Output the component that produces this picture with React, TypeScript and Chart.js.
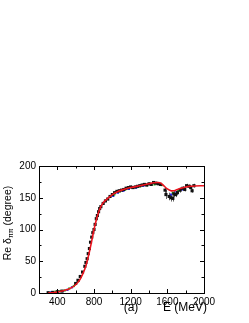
import React, { useEffect, useRef } from "react";
import { Chart, registerables } from "chart.js";

Chart.register(...registerables);

// Fitted curve
const curveE = [300, 350, 400, 450, 500, 550, 600, 650, 700, 725, 750, 775, 800, 825, 850, 875, 900, 950, 1000, 1050, 1100, 1200, 1300, 1400, 1450, 1500, 1530, 1560, 1600, 1640, 1665, 1700, 1750, 1800, 1850, 1900, 2000];
const curveV = [0, 0.5, 1.5, 3, 5, 8, 13, 22, 38, 50, 65, 82, 100, 115, 127, 136, 142, 149, 155, 159, 162, 166, 169, 172, 173.5, 174, 173, 169, 164, 161, 161, 162.5, 165, 167, 168, 168.5, 169];

// Black data points
const blackE = [300, 350, 400, 450, 600, 625, 650, 675, 700, 712, 725, 737, 750, 762, 775, 787, 800, 812, 825, 837, 850, 862, 875, 900, 925, 950, 975, 1000, 1025, 1050, 1075, 1100, 1125, 1150, 1175, 1200, 1225, 1250, 1275, 1300, 1325, 1350, 1375, 1400, 1425, 1450, 1475, 1500, 1525, 1575, 1585, 1620, 1640, 1660, 1670, 1690, 1710, 1740, 1770, 1790, 1810, 1840, 1855, 1870, 1890];
const blackV = [0.5, 1, 2, 3, 15, 20, 26, 33, 42, 48, 54, 62, 70, 80, 88, 95, 100, 108, 117, 122, 128, 133, 136, 141, 145, 148, 152, 155, 158, 160, 161, 162, 163, 165, 166, 167, 166, 167, 168, 169, 170, 171, 170, 172, 171, 174, 173, 172, 171, 162, 155, 152, 150, 149, 156, 155, 158, 162, 165, 163, 169, 168, 166, 161, 169];
const blackErr = [1, 1, 1, 1, 1.5, 1.5, 1.5, 1.5, 2, 2, 2, 2, 2, 2, 2, 2, 2, 2, 2, 2, 2, 2, 2, 2, 2, 2, 2, 2, 2, 2, 2, 2, 2, 2, 2, 2, 2, 2, 2, 2, 2, 2, 2, 2, 2, 2, 2, 2, 2, 5, 7, 6, 6, 5, 5, 4, 4, 4, 3, 3, 3, 3, 3, 3, 3];

// Green points
const greenE = [380, 430, 480, 530, 580, 630, 1020, 1080, 1140, 1220, 1300, 1380, 1460, 1540, 1660, 1720, 1780];
const greenV = [2, 3, 4, 7, 11, 19, 155, 160, 163, 166, 168, 170, 171, 170, 158, 161, 164];

// Blue points
const blueE = [330, 410, 460, 510, 560, 1010, 1060, 1120, 1180, 1260, 1340, 1420, 1500, 1640, 1700, 1760];
const blueV = [1, 2, 3, 5, 9, 153, 158, 161, 164, 166, 169, 171, 172, 155, 159, 163];

const xTickLabels = [400, 800, 1200, 1600, 2000];
const yTickLabels = [0, 50, 100, 150, 200];

const FONT = "'Liberation Sans', Arial, sans-serif";

export default function App() {
  const ref = useRef<HTMLCanvasElement | null>(null);

  useEffect(() => {
    const canvas = ref.current;
    if (!canvas) return;

    const errorBars = {
      id: "errorBars",
      beforeDatasetsDraw(chart: any) {
        const { ctx } = chart;
        const xs = chart.scales.x;
        const ys = chart.scales.y;
        ctx.save();
        ctx.strokeStyle = "#666";
        ctx.lineWidth = 1;
        for (let i = 0; i < blackE.length; i++) {
          const x = Math.round(xs.getPixelForValue(blackE[i])) + 0.5;
          const y1 = ys.getPixelForValue(blackV[i] - blackErr[i]);
          const y2 = ys.getPixelForValue(blackV[i] + blackErr[i]);
          ctx.beginPath();
          ctx.moveTo(x, y1);
          ctx.lineTo(x, y2);
          ctx.stroke();
        }
        ctx.restore();
      },
    };

    const frame = {
      id: "frame",
      afterDraw(chart: any) {
        const { ctx, chartArea: a } = chart;
        const xs = chart.scales.x;
        const ys = chart.scales.y;
        ctx.save();
        ctx.strokeStyle = "#000";
        ctx.lineWidth = 1;
        ctx.strokeRect(Math.round(a.left) + 0.5, Math.round(a.top) + 0.5, Math.round(a.right - a.left), Math.round(a.bottom - a.top));
        ctx.beginPath();
        for (let v = 200; v <= 2000; v += 200) {
          const x = Math.round(xs.getPixelForValue(v)) + 0.5;
          const len = v % 400 === 0 ? 4 : 2.5;
          ctx.moveTo(x, a.bottom);
          ctx.lineTo(x, a.bottom - len);
          ctx.moveTo(x, a.top);
          ctx.lineTo(x, a.top + len);
        }
        for (let v = 0; v <= 200; v += 25) {
          const y = Math.round(ys.getPixelForValue(v)) + 0.5;
          const len = v % 50 === 0 ? 4 : 2.5;
          ctx.moveTo(a.left, y);
          ctx.lineTo(a.left + len, y);
          ctx.moveTo(a.right, y);
          ctx.lineTo(a.right - len, y);
        }
        ctx.stroke();

        // x labels
        ctx.fillStyle = "#000";
        ctx.textBaseline = "middle";
        ctx.textAlign = "center";
        ctx.font = `12px ${FONT}`;
        ctx.fillText("(a)", 131, 308);
        ctx.textAlign = "left";
        ctx.fillText("E (MeV)", 163, 308);

        // y label with subscript
        ctx.translate(8, 223);
        ctx.rotate(-Math.PI / 2);
        const f1 = `10.5px ${FONT}`;
        const f2 = `7px ${FONT}`;
        ctx.font = f1;
        const p1 = "Re \u03b4";
        const p3 = " (degree)";
        const w1 = ctx.measureText(p1).width;
        const w3 = ctx.measureText(p3).width;
        ctx.font = f2;
        const w2 = ctx.measureText("\u03c0\u03c0").width;
        const total = w1 + w2 + w3;
        let xx = -total / 2;
        ctx.textAlign = "left";
        ctx.font = f1;
        ctx.fillText(p1, xx, 0);
        xx += w1;
        ctx.font = f2;
        ctx.fillText("\u03c0\u03c0", xx, 3);
        xx += w2;
        ctx.font = f1;
        ctx.fillText(p3, xx, 0);
        ctx.restore();
      },
    };

    const chart = new Chart(canvas, {
      type: "scatter",
      data: {
        datasets: [
          {
            label: "fit",
            data: curveE.map((e, i) => ({ x: e, y: curveV[i] })),
            showLine: true,
            borderColor: "rgb(235,20,30)",
            borderWidth: 1.6,
            pointRadius: 0,
            tension: 0.4,
            fill: false,
          },
          {
            label: "black",
            data: blackE.map((e, i) => ({ x: e, y: blackV[i] })),
            pointStyle: "rect",
            pointRadius: 2.2,
            backgroundColor: "#111",
            borderColor: "#111",
            borderWidth: 0,
          },
          {
            label: "green",
            data: greenE.map((e, i) => ({ x: e, y: greenV[i] })),
            pointStyle: "rect",
            pointRadius: 1.6,
            backgroundColor: "rgb(40,180,40)",
            borderWidth: 0,
          },
          {
            label: "blue",
            data: blueE.map((e, i) => ({ x: e, y: blueV[i] })),
            pointStyle: "rect",
            pointRadius: 1.6,
            backgroundColor: "rgb(40,40,230)",
            borderWidth: 0,
          },
        ],
      },
      options: {
        responsive: false,
        animation: false,
        events: [],
        layout: { padding: { left: 0, top: 166, right: 45, bottom: 0 } },
        plugins: { legend: { display: false }, tooltip: { enabled: false } },
        scales: {
          x: {
            type: "linear",
            min: 200,
            max: 2000,
            grid: { display: false, drawTicks: false },
            border: { display: false },
            afterFit: (s: any) => {
              s.height = 30;
            },
            ticks: {
              stepSize: 200,
              padding: 3,
              color: "#000",
              font: { family: FONT, size: 10 },
              maxRotation: 0,
              autoSkip: false,
              callback: (v: any) => (xTickLabels.includes(Number(v)) ? String(v) : ""),
            },
          },
          y: {
            type: "linear",
            min: 0,
            max: 200,
            grid: { display: false, drawTicks: false },
            border: { display: false },
            afterFit: (s: any) => {
              s.width = 39;
            },
            ticks: {
              stepSize: 25,
              padding: 3,
              color: "#000",
              font: { family: FONT, size: 10 },
              autoSkip: false,
              callback: (v: any) => (yTickLabels.includes(Number(v)) ? String(v) : ""),
            },
          },
        },
      },
      plugins: [errorBars, frame],
    });

    return () => chart.destroy();
  }, []);

  return (
    <div style={{ position: "fixed", left: 0, top: 0, width: 249, height: 323, background: "#fff" }}>
      <canvas ref={ref} width={249} height={323} style={{ display: "block" }} />
    </div>
  );
}
